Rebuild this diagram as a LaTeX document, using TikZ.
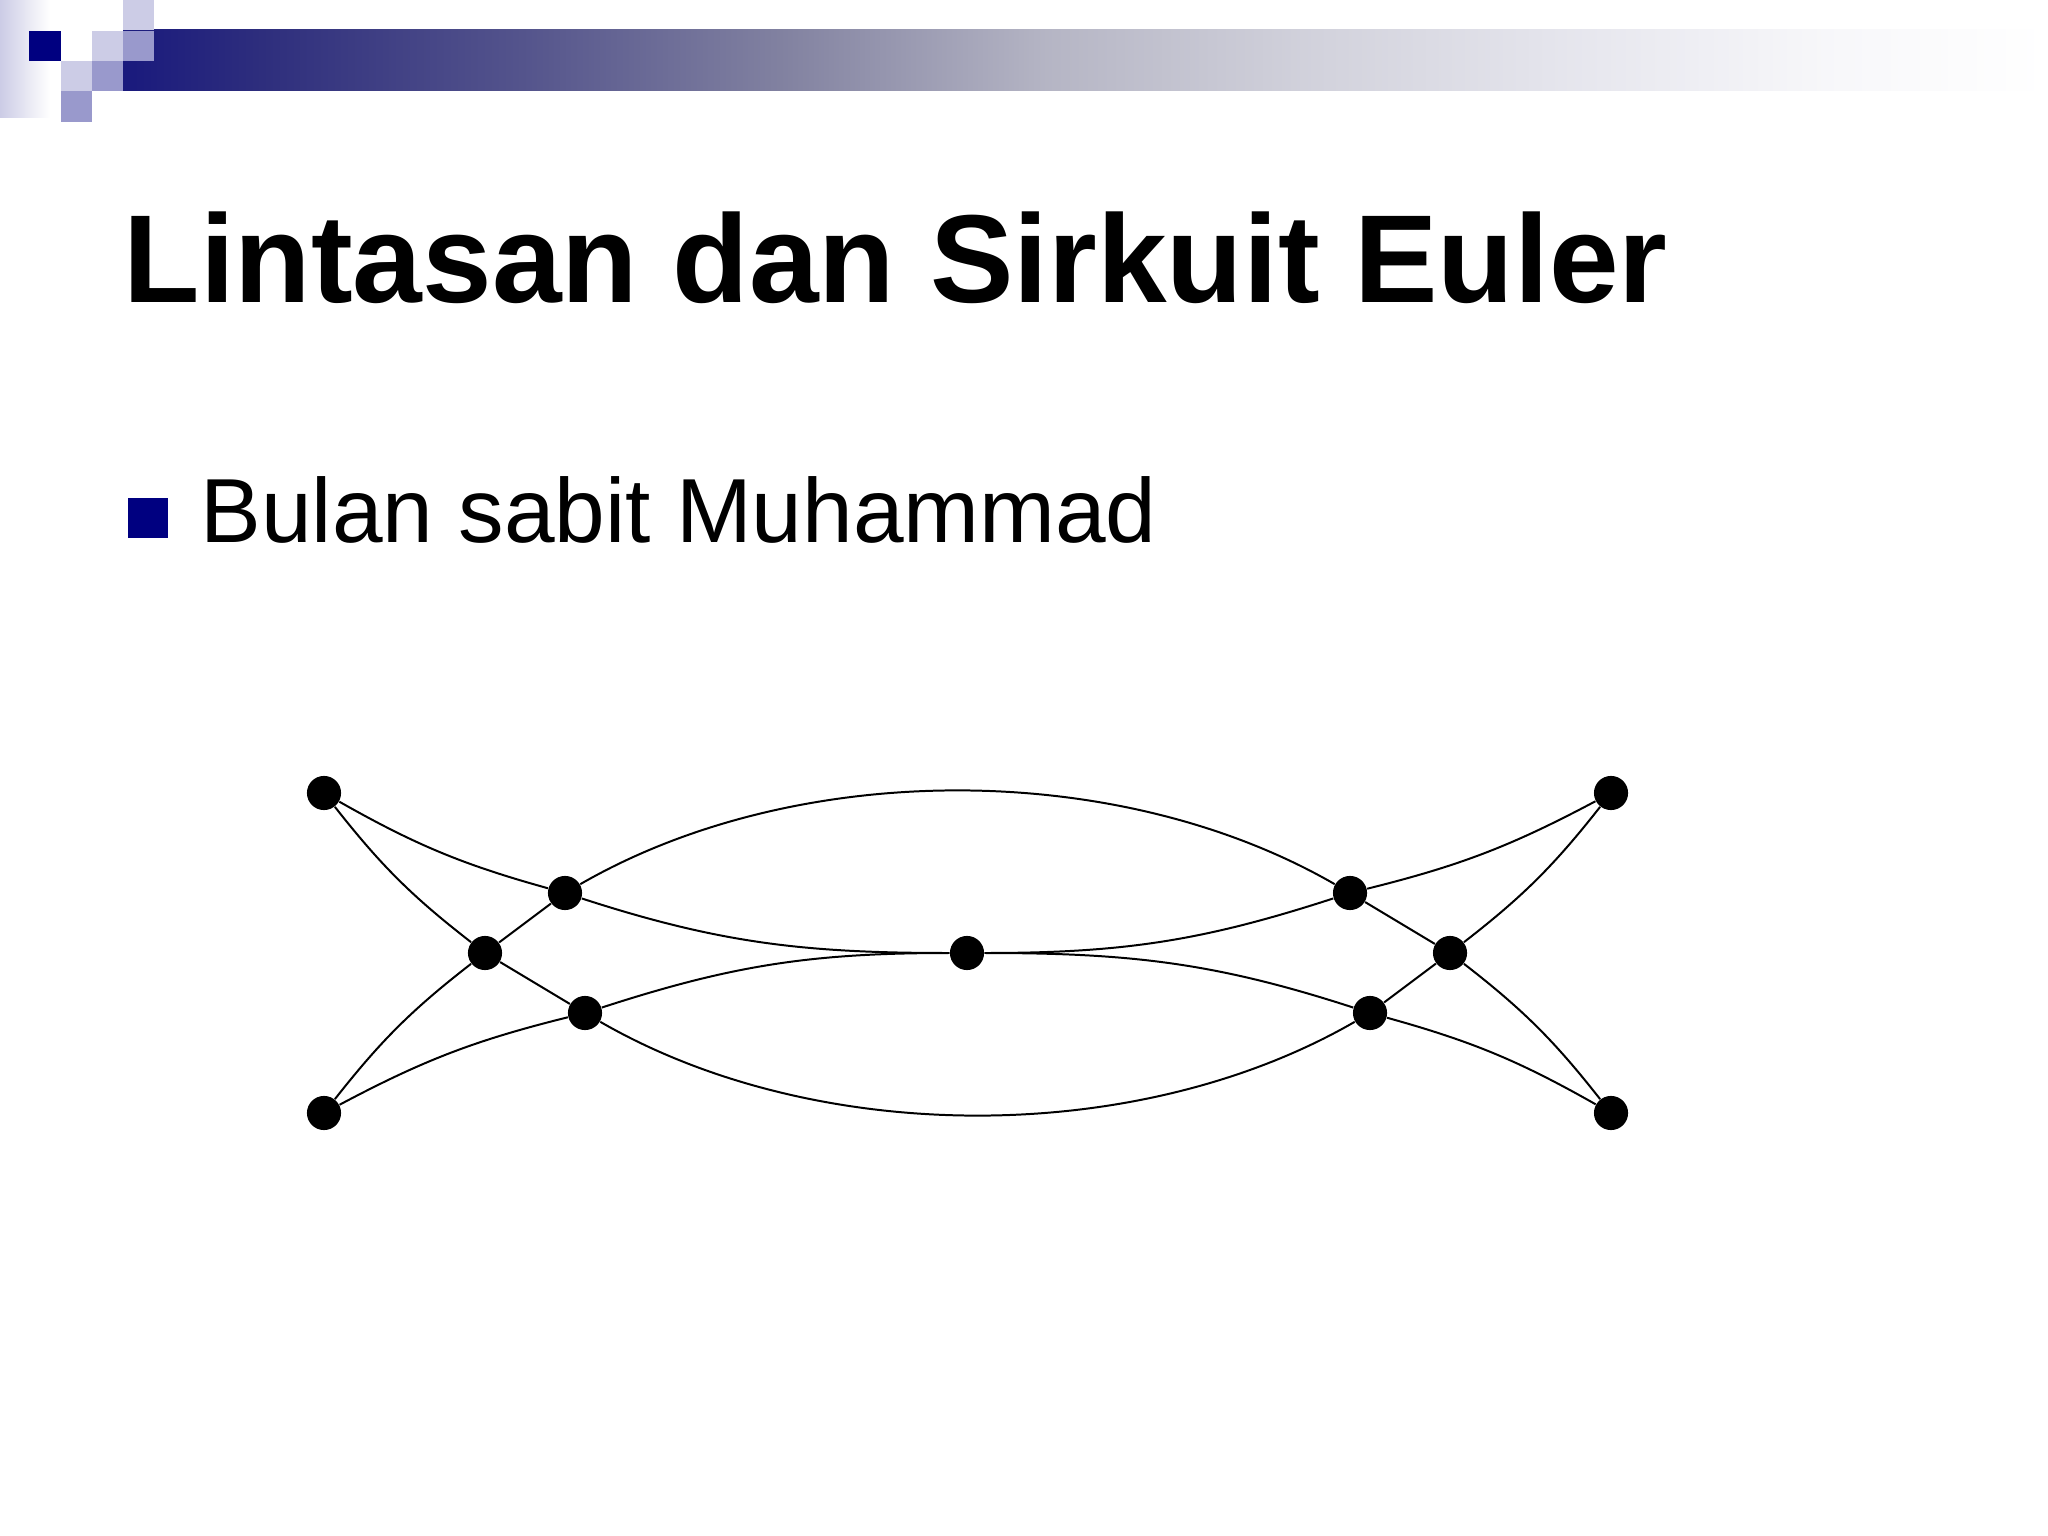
\documentclass[tikz,border=0pt]{standalone}
\usepackage{fontspec}
\setmainfont{Liberation Sans}
\usetikzlibrary{positioning}
\definecolor{navy}{RGB}{0,0,128}
\definecolor{pixlight}{RGB}{204,204,230}
\definecolor{pixmid}{RGB}{153,153,204}
\pgfdeclarehorizontalshading{bandshade}{100bp}{rgb(0bp)=(0.1,0.1,0.49); rgb(25bp)=(0.1,0.1,0.49); rgb(28.6bp)=(0.18,0.18,0.49); rgb(35.4bp)=(0.33,0.33,0.55); rgb(42.2bp)=(0.51,0.51,0.63); rgb(49bp)=(0.71,0.71,0.77); rgb(55.7bp)=(0.82,0.82,0.86); rgb(62.5bp)=(0.9,0.9,0.93); rgb(69.3bp)=(0.97,0.97,0.98); rgb(75bp)=(1,1,1); rgb(100bp)=(1,1,1)}

\begin{document}
\begin{tikzpicture}[x=0.3515625pt,y=0.3515625pt,
  vtx/.style={circle,fill=black,inner sep=0,minimum size=12pt},
  link/.style={line width=0.7pt},
  pix/.style={inner sep=0}]
\useasboundingbox (0,0) rectangle (2048,-1536);
\fill[white] (0,0) rectangle (2048,-1536);
% header band
\fill[left color=pixlight,right color=white] (0,0) rectangle (50,-118);
\path[shading=bandshade] (123,-30) rectangle (2048,-91);
\fill[navy] (29,-31) rectangle (61,-61);
\fill[pixlight] (123,0) rectangle (154,-30);
\fill[pixlight] (92,-31) rectangle (123,-61);
\fill[pixmid] (123,-31) rectangle (154,-61);
\fill[pixlight] (61,-61) rectangle (92,-91);
\fill[pixmid] (92,-61) rectangle (123,-91);
\fill[pixmid] (61,-91) rectangle (92,-122);
% texts
\node[anchor=base west,inner sep=0,font=\bfseries\fontsize{44}{53}\selectfont] (title) at (123,-303) {Lintasan dan Sirkuit Euler};
\node[fill=navy,inner sep=0,minimum size=14pt] (blt) at (148,-518) {};
\node[anchor=base west,inner sep=0,font=\fontsize{32}{38}\selectfont] (sub) at (200,-543) {Bulan sabit Muhammad};
% vertices
\node[vtx] (TL) at (324,-793) {};
\node[vtx] (BL) at (324,-1113) {};
\node[vtx] (L1) at (565,-893) {};
\node[vtx] (L2) at (485,-953) {};
\node[vtx] (L3) at (585,-1013) {};
\node[vtx] (C) at (967,-953) {};
\node[vtx] (R1) at (1350,-893) {};
\node[vtx] (R2) at (1450,-953) {};
\node[vtx] (R3) at (1370,-1013) {};
\node[vtx] (TR) at (1611,-793) {};
\node[vtx] (BR) at (1611,-1113) {};
% edges
\draw[link] (TL) to[bend right=7] (L1);
\draw[link] (TL) to[bend right=7] (L2);
\draw[link] (L1) -- (L2);
\draw[link] (L2) -- (L3);
\draw[link] (L2) to[bend right=7] (BL);
\draw[link] (BL) to[bend left=7] (L3);
\draw[link] (L1) to[out=-18,in=180] (C);
\draw[link] (L3) to[out=18,in=180] (C);
\draw[link] (L1) to[out=30,in=150,looseness=0.85] (R1);
\draw[link] (L3) to[out=-30,in=-150,looseness=0.85] (R3);
\draw[link] (C) to[out=0,in=198] (R1);
\draw[link] (C) to[out=0,in=162] (R3);
\draw[link] (TR) to[bend left=7] (R1);
\draw[link] (TR) to[bend left=7] (R2);
\draw[link] (R1) -- (R2);
\draw[link] (R2) -- (R3);
\draw[link] (R2) to[bend left=7] (BR);
\draw[link] (BR) to[bend right=7] (R3);
\end{tikzpicture}
\end{document}
